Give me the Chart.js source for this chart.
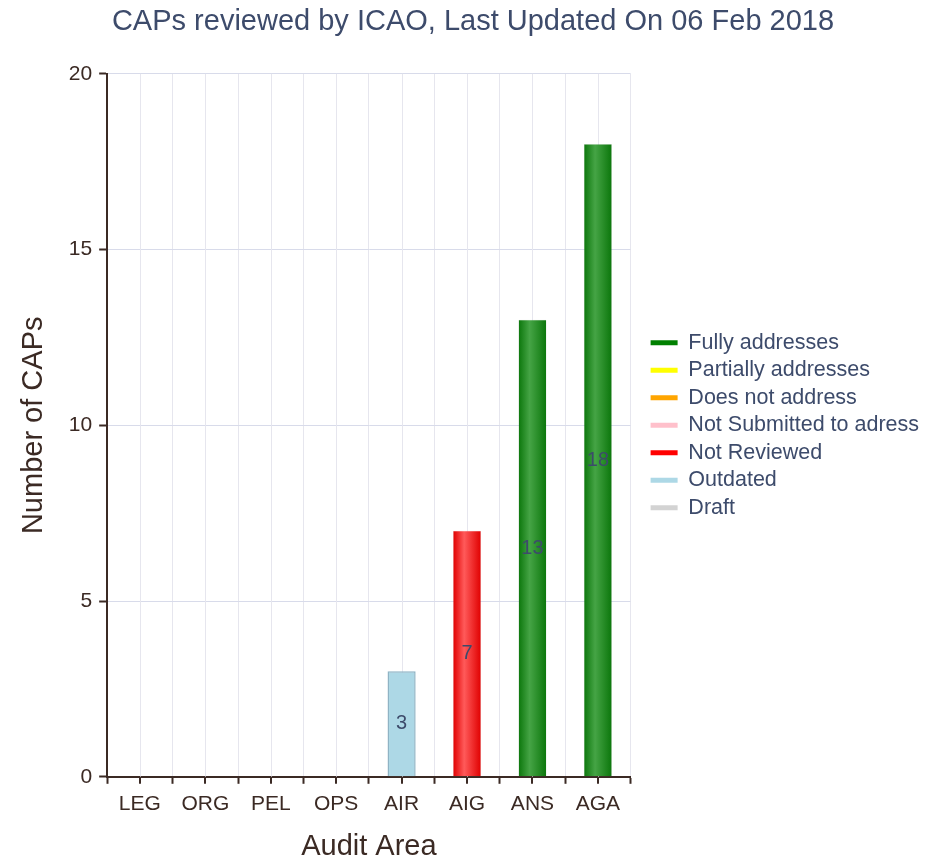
<!DOCTYPE html>
<html>
<head>
<meta charset="utf-8">
<script src="https://cdn.jsdelivr.net/npm/chart.js@4.4.1/dist/chart.umd.min.js"></script>
<style>
html,body{margin:0;padding:0;background:#fff;}
#wrap{width:941px;height:861px;}
</style>
</head>
<body>
<div id="wrap"><canvas id="c" width="941" height="861"></canvas></div>
<script>
const categories = ["LEG","ORG","PEL","OPS","AIR","AIG","ANS","AGA"];
const seriesNames = ["Fully addresses","Partially addresses","Does not address","Not Submitted to adress","Not Reviewed","Outdated","Draft"];
const fullyAddresses      = [0,0,0,0,0,0,13,18];
const partiallyAddresses  = [0,0,0,0,0,0,0,0];
const doesNotAddress      = [0,0,0,0,0,0,0,0];
const notSubmitted        = [0,0,0,0,0,0,0,0];
const notReviewed         = [0,0,0,0,0,7,0,0];
const outdated            = [0,0,0,0,3,0,0,0];
const draft               = [0,0,0,0,0,0,0,0];
const yTicks = [0,5,10,15,20];
const chartTitle = "CAPs reviewed by ICAO, Last Updated On 06 Feb 2018";

const seriesData = [fullyAddresses,partiallyAddresses,doesNotAddress,notSubmitted,notReviewed,outdated,draft];
const legendColors = ["#008000","#ffff00","#ffa500","#ffc0cb","#ff0000","#add8e6","#d3d3d3"];
const gradStops = [
  ["#0b760b","#45a445","#0b760b"],
  ["#e6e600","#ffff66","#e6e600"],
  ["#e69500","#ffc04d","#e69500"],
  ["#f0a8b4","#ffd8e0","#f0a8b4"],
  ["#e00000","#ff5a5a","#e00000"],
  null,
  ["#bbbbbb","#e0e0e0","#bbbbbb"]
];
const BAR_W = 28;
function makeBg(i){
  return function(ctx){
    const chart = ctx.chart;
    if(!chart.chartArea || !gradStops[i]) return legendColors[i];
    const x = chart.scales.x.getPixelForValue(ctx.dataIndex);
    const g = chart.ctx.createLinearGradient(x-BAR_W/2,0,x+BAR_W/2,0);
    g.addColorStop(0,gradStops[i][0]);
    g.addColorStop(0.4,gradStops[i][1]);
    g.addColorStop(1,gradStops[i][2]);
    return g;
  };
}
const datasets = seriesNames.map((n,i)=>({
  label:n,
  data:seriesData[i],
  backgroundColor: makeBg(i),
  borderColor: i===5 ? "#8fb3c4" : "rgba(0,0,0,0.12)",
  borderWidth: i===5 ? 1.5 : 0.5,
  barPercentage: 0.43,
  categoryPercentage: 1.0
}));

const FONT = "'Liberation Sans', Arial, Helvetica, sans-serif";
const brown = "#3b2a24";
const slate = "#3d4b6b";

const extras = {
  id:'extras',
  beforeDatasetsDraw(chart){
    const {ctx, chartArea, scales} = chart;
    const xs = scales.x;
    ctx.save();
    ctx.strokeStyle = "#e6e6ee";
    ctx.lineWidth = 1;
    categories.forEach((c,i)=>{
      const x = Math.round(xs.getPixelForValue(i))+0.5;
      ctx.beginPath(); ctx.moveTo(x,chartArea.top); ctx.lineTo(x,chartArea.bottom); ctx.stroke();
    });
    ctx.strokeStyle = brown;
    ctx.lineWidth = 2;
    categories.forEach((c,i)=>{
      const x = Math.round(xs.getPixelForValue(i));
      ctx.beginPath(); ctx.moveTo(x,chartArea.bottom); ctx.lineTo(x,chartArea.bottom+7); ctx.stroke();
    });
    ctx.restore();
  },
  afterDatasetsDraw(chart){
    const {ctx} = chart;
    ctx.save();
    ctx.font = "20px " + FONT;
    ctx.fillStyle = slate;
    ctx.textAlign = "center";
    ctx.textBaseline = "middle";
    chart.data.datasets.forEach((ds,di)=>{
      const meta = chart.getDatasetMeta(di);
      meta.data.forEach((el,j)=>{
        const v = ds.data[j];
        if(!v) return;
        ctx.fillText(String(v), el.x, (el.y+el.base)/2);
      });
    });
    ctx.restore();
  }
};

new Chart(document.getElementById('c'),{
  type:'bar',
  data:{labels:categories, datasets},
  options:{
    responsive:false,
    animation:false,
    layout:{padding:{left:17,right:12,top:4,bottom:0}},
    plugins:{
      title:{display:true,text:chartTitle,color:slate,font:{family:FONT,size:29,weight:'normal'},padding:{top:1,bottom:34}},
      legend:{
        position:'right',
        align:'center',
        fullSize:false,
        maxWidth:400,
        labels:{
          font:{family:FONT,size:21.5},
          color:slate,
          boxWidth:27,
          boxHeight:5,
          padding:6,
          generateLabels(chart){
            return seriesNames.map((n,i)=>({text:n,fillStyle:legendColors[i],strokeStyle:legendColors[i],lineWidth:0,fontColor:slate,datasetIndex:i,hidden:false}));
          }
        }
      },
      tooltip:{enabled:false}
    },
    scales:{
      x:{
        stacked:true,
        offset:true,
        grid:{offset:true,color:"#e6e6ee",tickColor:brown,tickLength:7,lineWidth:1,tickWidth:2},
        border:{display:true,color:brown,width:2},
        ticks:{color:brown,font:{family:FONT,size:21},padding:8},
        title:{display:true,text:"Audit Area",color:brown,font:{family:FONT,size:29,lineHeight:1},padding:{top:7,bottom:0}}
      },
      y:{
        stacked:true,
        min:0,max:20,
        afterBuildTicks(scale){scale.ticks = yTicks.map(v=>({value:v}));},
        grid:{color:"#d8dbea",tickColor:brown,tickLength:8,lineWidth:1,tickWidth:2},
        border:{display:true,color:brown,width:2},
        ticks:{color:brown,font:{family:FONT,size:21},padding:7},
        title:{display:true,text:"Number of CAPs",color:brown,font:{family:FONT,size:29},padding:{top:0,bottom:10}}
      },
      gap:{
        type:'linear',
        position:'right',
        display:true,
        grid:{display:false},
        border:{display:false},
        ticks:{display:false},
        afterFit(scale){scale.width = 14;}
      }
    }
  },
  plugins:[extras]
});
</script>
</body>
</html>
